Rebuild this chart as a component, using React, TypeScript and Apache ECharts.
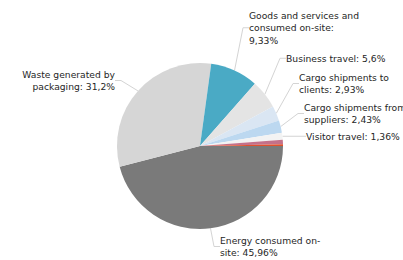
import React, { useEffect, useRef } from "react";
import * as echarts from "echarts";

const categories = [
  "Energy consumed on-site",
  "Waste generated by packaging",
  "Goods and services and consumed on-site",
  "Business travel",
  "Cargo shipments to clients",
  "Cargo shipments from suppliers",
  "Visitor travel",
  "Other",
  "Other 2",
];
const values = [45.96, 31.2, 9.33, 5.6, 2.93, 2.43, 1.36, 0.85, 0.34];
const labelLines = [
  ["Energy consumed on-", "site: "],
  ["Waste generated by", "packaging: "],
  ["Goods and services and", "consumed on-site:", ""],
  ["Business travel: "],
  ["Cargo shipments to", "clients: "],
  ["Cargo shipments from", "suppliers: "],
  ["Visitor travel: "],
  null,
  null,
];
const colors = [
  "#7a7a7a",
  "#d6d6d6",
  "#4aaac5",
  "#e4e4e4",
  "#dae6f3",
  "#bcd8f0",
  "#f3f3f3",
  "#c4718a",
  "#e0502c",
];
// label anchor: [x, y, align]
const labelPos: Array<[number, number, string] | null> = [
  [220, 234, "left"],
  [115, 68, "right"],
  [249, 9, "left"],
  [286, 52, "left"],
  [299, 71, "left"],
  [304, 101, "left"],
  [306, 130, "left"],
  null,
  null,
];

const fmt = (v: number) => String(v).replace(".", ",") + "%";

export default function App() {
  const ref = useRef<HTMLDivElement>(null);
  useEffect(() => {
    if (!ref.current) return;
    const chart = echarts.init(ref.current, undefined, { renderer: "svg" });
    const data = categories.map((name, i) => {
      const lines = labelLines[i];
      const show = !!lines;
      return {
        name,
        value: values[i],
        itemStyle: { color: colors[i] },
        label: {
          show,
          formatter: show
            ? (() => {
                const l = lines!.slice();
                l[l.length - 1] = l[l.length - 1] + fmt(values[i]);
                return l.join("\n");
              })()
            : "",
          align: show ? labelPos[i]![2] : "left",
        },
        labelLine: { show },
      };
    });
    chart.setOption({
      animation: false,
      series: [
        {
          type: "pie",
          center: [200, 146],
          radius: 83,
          startAngle: 0,
          clockwise: true,
          avoidLabelOverlap: false,
          data,
          label: {
            position: "outside",
            fontFamily: "DejaVu Sans",
            fontSize: 9.2,
            lineHeight: 12.5,
            color: "#262626",
          },
          labelLine: {
            length: 10,
            length2: 6,
            lineStyle: { color: "#d4d4d4", width: 1 },
          },
          labelLayout: (params: any) => {
            const p = labelPos[params.dataIndex];
            if (!p) return {};
            return { x: p[0], y: p[1], align: p[2], verticalAlign: "top" };
          },
        },
      ],
    });
    return () => chart.dispose();
  }, []);
  return (
    <div
      ref={ref}
      style={{ position: "fixed", left: 0, top: 0, width: 403, height: 260, background: "#fff" }}
    />
  );
}
